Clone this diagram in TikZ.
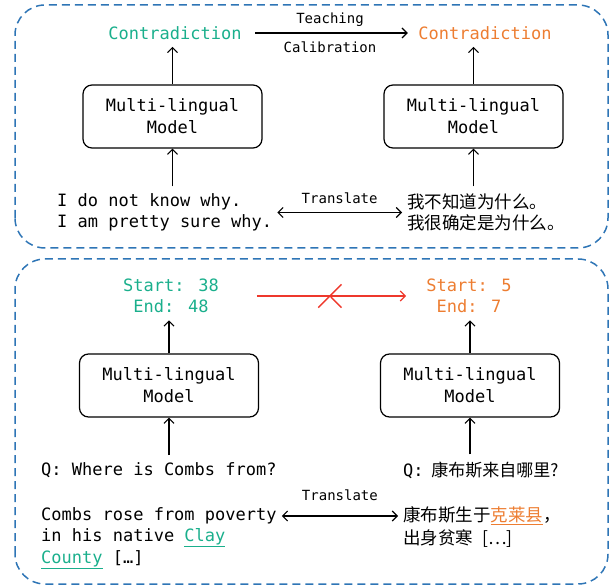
\documentclass[tikz,border=0pt]{standalone}
\usepackage{fontspec}
\setmainfont{DejaVu Sans Mono}
\newfontfamily\cjk{Noto Sans CJK SC}
\usetikzlibrary{arrows.meta, positioning, shapes.misc}
\definecolor{cgreen}{RGB}{26,175,140}
\definecolor{corange}{RGB}{237,125,49}
\definecolor{cblue}{RGB}{46,117,182}
\definecolor{cred}{RGB}{238,56,44}
\tikzstyle{panel} = [draw=cblue, line width=1.5pt, dash pattern=on 8pt off 5pt, rounded corners=30pt]
\tikzstyle{modelbox} = [rectangle, rounded corners=9pt, draw=black, line width=1.2pt,
                        minimum width=179pt, minimum height=63pt, align=center,
                        font=\fontsize{17}{22}\selectfont]
\tikzstyle{txt} = [font=\fontsize{17}{21.5}\selectfont, inner xsep=5pt, inner ysep=7pt, align=left]
\tikzstyle{cjktxt} = [txt, font=\cjk\fontsize{17.5}{21.5}\selectfont]
\tikzstyle{small} = [font=\fontsize{14}{17}\selectfont, inner sep=2pt]
\tikzstyle{arrow} = [line width=1.1pt, -{Straight Barb[length=5pt,width=10pt]}, black]
\tikzstyle{darrow} = [line width=1.1pt, {Straight Barb[length=5pt,width=10pt]}-{Straight Barb[length=5pt,width=10pt]}, black]
\tikzstyle{redarrow} = [line width=1.3pt, -{Straight Barb[length=5pt,width=10pt]}, cred]
\tikzstyle{crossx} = [cross out, draw=cred, line width=1.3pt, minimum size=22pt, inner sep=0pt]

\begin{document}
\begin{tikzpicture}[x=1pt, y=1pt]
    \useasboundingbox (0,0) rectangle (612,586);
    % Panels
    \draw[panel] (15,338) rectangle (608,581);
    \draw[panel] (15,2) rectangle (608,327);

    % Top panel: contradiction
    \node[modelbox] (mlA) at (172.5,469.5) {Multi-lingual\\Model};
    \node[modelbox] (mlB) at (473.5,469.5) {Multi-lingual\\Model};
    \node[txt, text=cgreen] (conA) at (175,553) {Contradiction};
    \node[txt, text=corange] (conB) at (485,553) {Contradiction};
    \node[txt, anchor=west] (sentA) at (52,373.5) {I do not know why.\\I am pretty sure why.};
    \node[cjktxt, anchor=west] (sentB) at (402,373.5) {我不知道为什么。\\我很确定是为什么。};

    \draw[arrow] (mlA.north) -- (mlA.north |- conA.south);
    \draw[arrow] (mlB.north) -- (mlB.north |- conB.south);
    \draw[arrow] (mlA.south |- sentA.north) -- (mlA.south);
    \draw[arrow] (mlB.south |- sentB.north) -- (mlB.south);
    \draw[arrow, shorten <=8.5pt, shorten >=5.5pt] (conA) -- node[small, above=4pt] {Teaching}
        node[small, below=6pt] {Calibration} (conB);
    \draw[darrow] (sentA) -- node[small, above=6pt] {Translate} (sentB);

    % Bottom panel: span prediction
    \node[modelbox] (mlC) at (169,200.5) {Multi-lingual\\Model};
    \node[modelbox] (mlD) at (470,200.5) {Multi-lingual\\Model};
    \node[txt, text=cgreen, align=center] (startA) at (171,290) {Start: 38\\End: 48};
    \node[txt, text=corange, align=center] (startB) at (469,290) {Start: 5\\End: 7};
    \node[txt, anchor=west] (qA) at (36,116) {Q: Where is Combs from?};
    \node[txt, anchor=west] (qB) at (398,116) {Q:{\cjk\hspace{4pt} 康布斯来自哪里?}};
    \node[txt, anchor=west] (psgA) at (36,70) {Combs rose from poverty};
    \node[txt, below=-3pt of psgA.south west, anchor=north west, inner ysep=0pt] (psgA2)
        {in his native \textcolor{cgreen}{\underline{Clay}}\\\textcolor{cgreen}{\underline{County}} […]};
    \node[cjktxt, anchor=west] (psgB) at (398,70) {康布斯生于\textcolor{corange}{\underline{克莱县}}，};
    \node[cjktxt, below=-3pt of psgB.south west, anchor=north west, inner ysep=0pt] (psgB2)
        {出身贫寒\hspace{9pt}[…]};

    \draw[arrow] (mlC.north) -- (mlC.north |- startA.south);
    \draw[arrow] (mlD.north) -- (mlD.north |- startB.south);
    \draw[arrow] (mlC.south |- qA.north) -- (mlC.south);
    \draw[arrow] (mlD.south |- qB.north) -- (mlD.south);
    \draw[redarrow, shorten <=33pt, shorten >=15pt] (startA) -- node[crossx, pos=0.537] (nox) {} (startB);
    \draw[darrow] (psgA) -- node[small, above=13pt] {Translate} (psgB);
\end{tikzpicture}
\end{document}
